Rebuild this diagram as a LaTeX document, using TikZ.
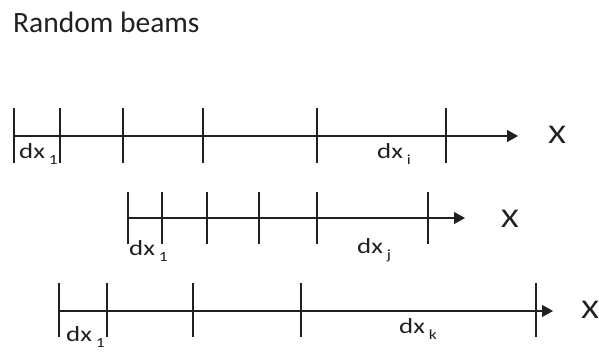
\documentclass[tikz,border=0pt]{standalone}
\usepackage{fontspec}
\setmainfont{Carlito}
\newfontfamily\lblfont{Carlito}[FakeStretch=1.25]
\usetikzlibrary{arrows.meta}
\definecolor{ink}{HTML}{231F20}
\newcommand{\dxlab}[1]{{\fontsize{21.5}{21.5}\selectfont dx}\hspace{4pt}\raisebox{-6pt}{\fontsize{14}{14}\selectfont #1}}
\begin{document}
\begin{tikzpicture}[x=1pt,y=-1pt,
  beam/.style={draw=ink,line width=1.1pt,-{Triangle[length=11pt,width=12pt]}},
  tick/.style={draw=ink,line width=1.1pt},
  lab/.style={inner sep=0pt,anchor=base west,text=ink,font=\lblfont},
  axis/.style={inner sep=0pt,text=ink,font=\lblfont\fontsize{27}{27}\selectfont}]
\useasboundingbox (0,0) rectangle (599,352);
\node[inner sep=0pt,anchor=base west,text=ink,font=\fontsize{29.5}{30}\selectfont] (title) at (13,33) {Random beams};
% row 1
\coordinate (a0) at (14,136);
\coordinate (a1) at (518,136);
\draw[beam] (a0) -- (a1);
\foreach \x in {14,60,123,203,317,446} \draw[tick] (\x,108) -- (\x,163);
\node[axis] (xa) at (557,135) {X};
\node[lab] (da1) at (19,159) {\dxlab{1}};
\node[lab] (dai) at (377,159) {\dxlab{i}};
% row 2
\coordinate (b0) at (128,218);
\coordinate (b1) at (465,218);
\draw[beam] (b0) -- (b1);
\foreach \x in {128,162,207,259,317,428} \draw[tick] (\x,192) -- (\x,244);
\node[axis] (xb) at (510,219) {X};
\node[lab] (db1) at (129,256) {\dxlab{1}};
\node[lab] (dbj) at (357,254) {\dxlab{j}};
% row 3
\coordinate (c0) at (59,311);
\coordinate (c1) at (553,311);
\draw[beam] (c0) -- (c1);
\foreach \x in {59,107,193,301,536} \draw[tick] (\x,283) -- (\x,337);
\node[axis] (xc) at (590,310) {X};
\node[lab] (dc1) at (66,341) {\dxlab{1}};
\node[lab] (dck) at (399,333) {\dxlab{k}};
\end{tikzpicture}
\end{document}
